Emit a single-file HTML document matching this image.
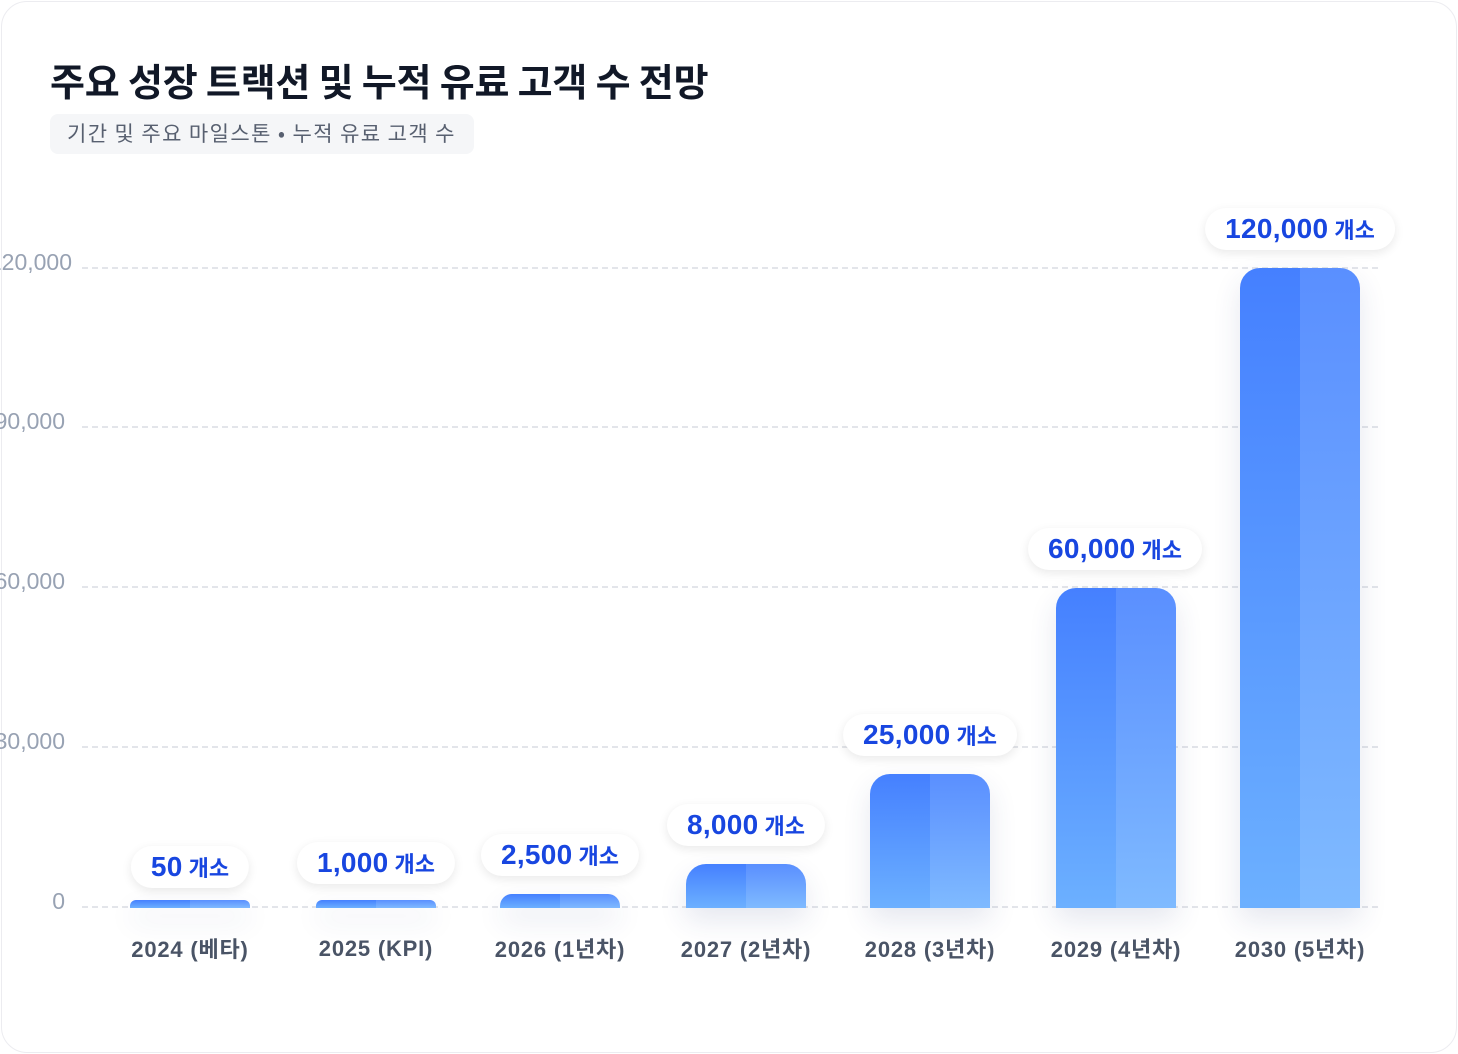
<!DOCTYPE html>
<html><head><meta charset="utf-8"><style>
*{margin:0;padding:0;box-sizing:border-box}
body{width:1458px;height:1054px;background:#fff;font-family:"Liberation Sans","Noto Sans CJK KR",sans-serif;position:relative;overflow:hidden}
.card{position:absolute;left:1px;top:1px;width:1456px;height:1052px;border:1px solid #ececf0;border-radius:26px;background:#fff}
.title{position:absolute;left:50px;top:52px;font-size:38px;font-weight:700;color:#111827;font-family:"Noto Sans CJK KR",sans-serif;letter-spacing:-0.2px}
.sub{position:absolute;left:50px;top:114px;height:40px;padding:0 18px 0 17px;background:#f5f6f8;border-radius:8px;font-size:21px;line-height:39px;color:#586070;font-family:"Noto Sans CJK KR",sans-serif;letter-spacing:1.4px}
.grid{position:absolute;left:82px;width:1296px;border-top:2px dashed #e3e5ea;height:0}
.yl{position:absolute;font-size:23px;color:#98a2b3;text-align:right;width:200px}
.bar{position:absolute;width:120px;border-radius:20px 20px 0 0;overflow:hidden;box-shadow:0 12px 28px rgba(40,60,120,0.12)}
.bar .l{position:absolute;left:0;top:0;width:60px;height:100%;background:linear-gradient(#4580ff,#6cb0ff)}
.bar .r{position:absolute;left:60px;top:0;width:60px;height:100%;background:linear-gradient(#5a8fff,#7fbaff)}
.pill{position:absolute;height:42px;background:#fff;border-radius:21px;box-shadow:0 3px 10px rgba(0,0,0,0.09);white-space:nowrap;text-align:center;line-height:42px;color:#1846e0;transform:translateX(-50%);padding:0 20px}
.pill b{font-size:28px;font-weight:700;font-family:"Liberation Sans",sans-serif;letter-spacing:0.3px}
.pill span{font-size:22px;font-weight:700;font-family:"Noto Sans CJK KR",sans-serif;margin-left:6px}
.xl{position:absolute;top:932px;width:240px;text-align:center;font-size:22px;font-weight:700;color:#4a5466;font-family:"Liberation Sans","Noto Sans CJK KR",sans-serif;letter-spacing:0.8px}
</style></head><body>
<div class="card"></div>
<div class="title">주요 성장 트랙션 및 누적 유료 고객 수 전망</div>
<div class="sub">기간 및 주요 마일스톤 • 누적 유료 고객 수</div>

<div class="grid" style="top:267px"></div>
<div class="grid" style="top:426px"></div>
<div class="grid" style="top:586px"></div>
<div class="grid" style="top:746px"></div>
<div class="grid" style="top:906px"></div>
<div class="yl" style="left:-128px;top:249px">120,000</div>
<div class="yl" style="left:-135px;top:408px">90,000</div>
<div class="yl" style="left:-135px;top:568px">60,000</div>
<div class="yl" style="left:-135px;top:728px">30,000</div>
<div class="yl" style="left:-135px;top:888px">0</div>

<div class="bar" style="left:130px;top:900px;height:8px;border-radius:6px 6px 0 0"><div class="l"></div><div class="r"></div></div>
<div class="bar" style="left:316px;top:900px;height:8px;border-radius:6px 6px 0 0"><div class="l"></div><div class="r"></div></div>
<div class="bar" style="left:500px;top:894px;height:14px;border-radius:12px 12px 0 0"><div class="l"></div><div class="r"></div></div>
<div class="bar" style="left:686px;top:864px;height:44px"><div class="l"></div><div class="r"></div></div>
<div class="bar" style="left:870px;top:774px;height:134px"><div class="l"></div><div class="r"></div></div>
<div class="bar" style="left:1056px;top:588px;height:320px"><div class="l"></div><div class="r"></div></div>
<div class="bar" style="left:1240px;top:268px;height:640px"><div class="l"></div><div class="r"></div></div>

<div class="pill" style="left:190px;top:846px"><b>50</b><span>개소</span></div>
<div class="pill" style="left:376px;top:842px"><b>1,000</b><span>개소</span></div>
<div class="pill" style="left:560px;top:834px"><b>2,500</b><span>개소</span></div>
<div class="pill" style="left:746px;top:804px"><b>8,000</b><span>개소</span></div>
<div class="pill" style="left:930px;top:714px"><b>25,000</b><span>개소</span></div>
<div class="pill" style="left:1115px;top:528px"><b>60,000</b><span>개소</span></div>
<div class="pill" style="left:1300px;top:208px"><b>120,000</b><span>개소</span></div>

<div class="xl" style="left:70px">2024 (베타)</div>
<div class="xl" style="left:256px;top:936px">2025 (KPI)</div>
<div class="xl" style="left:440px">2026 (1년차)</div>
<div class="xl" style="left:626px">2027 (2년차)</div>
<div class="xl" style="left:810px">2028 (3년차)</div>
<div class="xl" style="left:996px">2029 (4년차)</div>
<div class="xl" style="left:1180px">2030 (5년차)</div>
</body></html>
